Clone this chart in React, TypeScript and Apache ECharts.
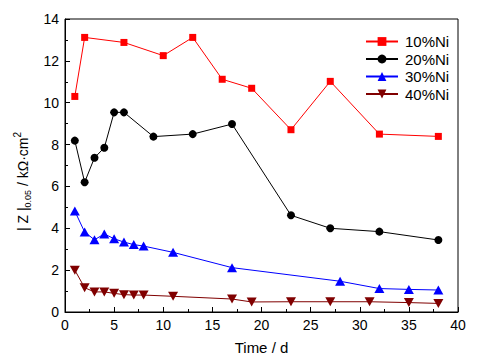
import React, { useEffect, useRef } from "react";
import * as echarts from "echarts";

const days10 = [1, 2, 6, 10, 13, 16, 19, 23, 27, 32, 38];
const z10 = [10.3, 13.12, 12.88, 12.25, 13.12, 11.12, 10.69, 8.71, 11.02, 8.5, 8.39];
const days20 = [1, 2, 3, 4, 5, 6, 9, 13, 17, 23, 27, 32, 38];
const z20 = [8.19, 6.2, 7.37, 7.85, 9.54, 9.54, 8.38, 8.5, 8.98, 4.62, 4.0, 3.84, 3.44];
const days30 = [1, 2, 3, 4, 5, 6, 7, 8, 11, 17, 28, 32, 35, 38];
const z30 = [4.82, 3.82, 3.45, 3.73, 3.5, 3.34, 3.22, 3.15, 2.85, 2.12, 1.47, 1.12, 1.08, 1.05];
const days40 = [1, 2, 3, 4, 5, 6, 7, 8, 11, 17, 19, 23, 27, 31, 35, 38];
const z40 = [2.0, 1.16, 0.96, 0.96, 0.89, 0.83, 0.81, 0.81, 0.75, 0.62, 0.48, 0.49, 0.49, 0.49, 0.45, 0.41];

const seriesNames = ["10%Ni", "20%Ni", "30%Ni", "40%Ni"];

const FONT = "'Liberation Sans', Arial, sans-serif";

const zip = (xs: number[], ys: number[]) => xs.map((x, i) => [x, ys[i]]);

export default function App() {
  const ref = useRef<HTMLDivElement>(null);
  useEffect(() => {
    if (!ref.current) return;
    const chart = echarts.init(ref.current, undefined, { renderer: "svg" });
    const mk = (name: string, data: number[][], color: string, symbol: string, size: number | number[]) => ({
      name,
      type: "line",
      data,
      symbol,
      symbolSize: size,
      lineStyle: { color, width: 1 },
      itemStyle: { color },
      emphasis: { disabled: true },
    });
    chart.setOption({
      animation: false,
      grid: { left: 65, right: 19, top: 19, bottom: 52, show: true, borderColor: "#000", borderWidth: 1 },
      legend: {
        left: 360,
        top: 29,
        orient: "vertical",
        itemWidth: 32,
        itemHeight: 11,
        itemGap: 2.5,
        textStyle: { fontFamily: FONT, fontSize: 15, color: "#000", lineHeight: 15, padding: [0, 0, 0, 2] },
        data: seriesNames,
      },
      xAxis: {
        type: "value",
        min: 0,
        max: 40,
        interval: 5,
        name: "Time / d",
        nameLocation: "middle",
        nameGap: 28,
        nameTextStyle: { fontFamily: FONT, fontSize: 15, color: "#000" },
        axisLine: { lineStyle: { color: "#000", width: 1 } },
        axisTick: { inside: true, length: 5, lineStyle: { color: "#000" } },
        minorTick: { show: true, splitNumber: 2, length: 3, lineStyle: { color: "#000" } },
        axisLabel: { fontFamily: FONT, fontSize: 14, color: "#000", margin: 6 },
        splitLine: { show: false },
      },
      yAxis: {
        type: "value",
        min: 0,
        max: 14,
        interval: 2,
        name: "{m|| Z |}{s|0.05}{m| / kΩ·cm}{p|2}",
        nameLocation: "middle",
        nameGap: 27,
        nameTextStyle: {
          fontFamily: FONT,
          color: "#000",
          padding: [0, 32, 0, 0],
          rich: {
            m: { fontFamily: FONT, fontSize: 14, color: "#000", lineHeight: 20, verticalAlign: "middle" },
            s: { fontFamily: FONT, fontSize: 9, color: "#000", lineHeight: 10, verticalAlign: "bottom" },
            p: { fontFamily: FONT, fontSize: 10, color: "#000", lineHeight: 10, verticalAlign: "top" },
          },
        },
        axisLine: { lineStyle: { color: "#000", width: 1 } },
        axisTick: { inside: true, length: 5, lineStyle: { color: "#000" } },
        minorTick: { show: true, splitNumber: 2, length: 3, lineStyle: { color: "#000" } },
        axisLabel: { fontFamily: FONT, fontSize: 14, color: "#000", margin: 6 },
        splitLine: { show: false },
      },
      series: [
        mk(seriesNames[0], zip(days10, z10), "#ff0000", "rect", 7),
        mk(seriesNames[1], zip(days20, z20), "#000000", "circle", 8),
        mk(seriesNames[2], zip(days30, z30), "#0000ff", "triangle", [10, 9]),
        mk(seriesNames[3], zip(days40, z40), "#800000", "path://M0,0 L10,0 L5,9 Z", [10, 9]),
      ],
    });
    return () => chart.dispose();
  }, []);
  return <div ref={ref} style={{ width: 477, height: 364, position: "absolute", left: 0, top: 0 }} />;
}
